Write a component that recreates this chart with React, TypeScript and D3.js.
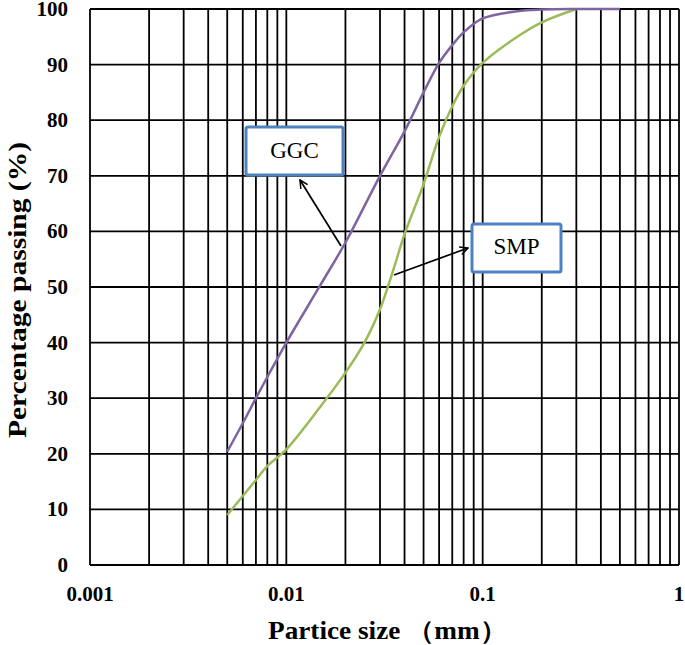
import { useEffect, useRef } from "react";
import * as d3 from "d3";

// particle size (mm) vs percentage passing (%)
const ggcSize = [0.005, 0.006, 0.007, 0.008, 0.01, 0.015, 0.02, 0.03, 0.04, 0.05, 0.06, 0.07, 0.08, 0.1, 0.15, 0.2, 0.3, 0.5];
const ggcPass = [20.4, 25.5, 30, 33.8, 40, 50.5, 58, 70, 78, 85, 90.3, 93.5, 95.8, 98.3, 99.6, 99.9, 100, 100];

const smpSize = [0.005, 0.006, 0.007, 0.008, 0.01, 0.015, 0.02, 0.025, 0.03, 0.035, 0.04, 0.05, 0.06, 0.07, 0.08, 0.1, 0.15, 0.2, 0.3];
const smpPass = [9, 12.4, 15.3, 17.8, 20.8, 28.6, 34.6, 40, 46, 53, 59.5, 68.5, 77, 82.5, 86.2, 90.3, 95, 97.6, 100];

const xTickLabels = [0.001, 0.01, 0.1, 1];
const yTickLabels = [0, 10, 20, 30, 40, 50, 60, 70, 80, 90, 100];

const W = 685;
const H = 645;
const font = "Liberation Serif, Times New Roman, serif";

export default function App() {
    const ref = useRef<SVGSVGElement>(null);

    useEffect(() => {
        const svg = d3.select(ref.current);
        svg.selectAll("*").remove();

        const margin = { top: 9, right: 6, bottom: 80, left: 90 };
        const x = d3.scaleLog().domain([0.001, 1]).range([margin.left, W - margin.right]);
        const y = d3.scaleLinear().domain([0, 100]).range([H - margin.bottom, margin.top]);

        svg.append("rect").attr("width", W).attr("height", H).attr("fill", "#fff");

        // grid
        const grid = svg.append("g").attr("stroke", "#000").attr("stroke-width", 1.8);
        grid.selectAll(".vx").data(x.ticks()).enter().append("line")
            .attr("x1", d => x(d)).attr("x2", d => x(d))
            .attr("y1", y(0)).attr("y2", y(100));
        grid.selectAll(".hy").data(yTickLabels).enter().append("line")
            .attr("x1", x(0.001)).attr("x2", x(1))
            .attr("y1", d => y(d)).attr("y2", d => y(d));

        // tick labels
        svg.selectAll(".yl").data(yTickLabels).enter().append("text")
            .attr("x", margin.left - 22).attr("y", d => y(d) + 7)
            .attr("text-anchor", "end")
            .style("font-family", font).style("font-weight", 700).style("font-size", "21px")
            .text(d => d);

        svg.selectAll(".xl").data(xTickLabels).enter().append("text")
            .attr("x", d => x(d)).attr("y", y(0) + 36)
            .attr("text-anchor", "middle")
            .style("font-family", font).style("font-weight", 700).style("font-size", "21px")
            .text(d => String(d));

        // axis titles
        svg.append("text")
            .attr("transform", "translate(26,438) rotate(-90)")
            .attr("textLength", 296).attr("lengthAdjust", "spacingAndGlyphs")
            .style("font-family", font).style("font-weight", 700).style("font-size", "26px")
            .text("Percentage passing (%)");
        svg.append("text")
            .attr("x", 268).attr("y", 639)
            .attr("textLength", 239).attr("lengthAdjust", "spacingAndGlyphs")
            .style("font-family", font).style("font-weight", 700).style("font-size", "25px")
            .text("Partice size （mm）");

        // curves
        const line = d3.line<[number, number]>()
            .x(d => x(d[0])).y(d => y(d[1]))
            .curve(d3.curveCatmullRom.alpha(0.5));

        svg.append("path")
            .datum(smpSize.map((s, i) => [s, smpPass[i]] as [number, number]))
            .attr("d", line).attr("fill", "none")
            .attr("stroke", "#9BBB59").attr("stroke-width", 2.5);
        svg.append("path")
            .datum(ggcSize.map((s, i) => [s, ggcPass[i]] as [number, number]))
            .attr("d", line).attr("fill", "none")
            .attr("stroke", "#8064A2").attr("stroke-width", 2.5);

        // annotations
        const defs = svg.append("defs");
        defs.append("marker")
            .attr("id", "arr").attr("viewBox", "0 0 10 10")
            .attr("refX", 9).attr("refY", 5)
            .attr("markerWidth", 10).attr("markerHeight", 10)
            .attr("markerUnits", "userSpaceOnUse")
            .attr("orient", "auto")
            .append("path").attr("d", "M1,1 L9,5 L1,9")
            .attr("fill", "none").attr("stroke", "#000").attr("stroke-width", 1.5);

        const callouts = [
            { label: "GGC", bx: 246, by: 127, bw: 97, bh: 48, ty: 158, from: [341, 246], to: [300, 180] },
            { label: "SMP", bx: 472, by: 224, bw: 89, bh: 48, ty: 254, from: [394, 275], to: [468, 248] },
        ];
        callouts.forEach(c => {
            svg.append("line")
                .attr("x1", c.from[0]).attr("y1", c.from[1])
                .attr("x2", c.to[0]).attr("y2", c.to[1])
                .attr("stroke", "#000").attr("stroke-width", 1.7)
                .attr("marker-end", "url(#arr)");
            svg.append("rect")
                .attr("x", c.bx).attr("y", c.by).attr("width", c.bw).attr("height", c.bh)
                .attr("rx", 2)
                .attr("fill", "#fff").attr("stroke", "#4F81BD").attr("stroke-width", 3);
            svg.append("text")
                .attr("x", c.bx + c.bw / 2).attr("y", c.ty)
                .attr("text-anchor", "middle")
                .style("font-family", font).style("font-size", "23px")
                .text(c.label);
        });
    }, []);

    return (
        <svg ref={ref} width={W} height={H} style={{ position: "absolute", left: 0, top: 0 }}></svg>
    );
}
